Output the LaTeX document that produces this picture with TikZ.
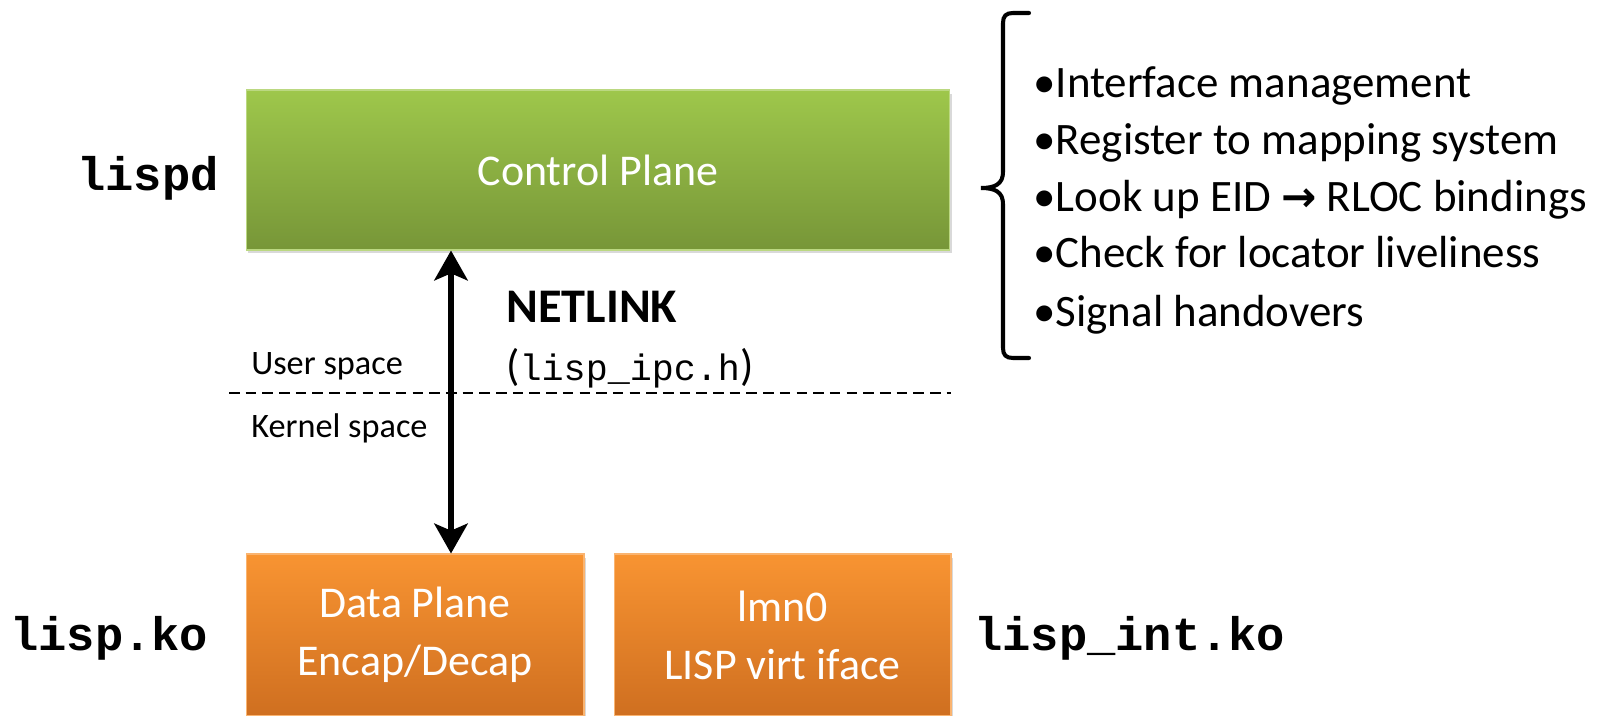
\documentclass[tikz,border=0pt]{standalone}
\usepackage{fontspec}
\setmainfont{Carlito}
\setmonofont{Liberation Mono}
\newfontfamily\arrowfont{DejaVu Sans}
\usetikzlibrary{arrows.meta,shadows}

\definecolor{cptop}{HTML}{9EC74B}
\definecolor{cpbot}{HTML}{779638}
\definecolor{dptop}{HTML}{F89432}
\definecolor{dpbot}{HTML}{CF6F20}

\begin{document}
\begin{tikzpicture}[x=0.02cm,y=-0.02cm,
  plane/.style={rectangle,inner sep=0pt,text=white,align=center,
    font=\fontsize{25}{33}\selectfont,
    drop shadow={shadow xshift=1pt,shadow yshift=-2pt,opacity=0.3}},
  greenbox/.style={plane,top color=cptop,bottom color=cpbot,draw=cptop!70!white,line width=0.6pt},
  orangebox/.style={plane,top color=dptop,bottom color=dpbot,draw=dptop!70!white,line width=0.6pt},
  modlabel/.style={inner sep=0pt,font=\fontsize{26.8}{30}\selectfont\ttfamily\bfseries},
  spacelabel/.style={anchor=base west,inner sep=0pt,font=\fontsize{19.5}{24}\selectfont},
  listline/.style={anchor=base west,inner sep=0pt,font=\fontsize{25.6}{30}\selectfont},
  netarrow/.style={{Stealth[length=17pt,width=19pt,inset=4pt]}-{Stealth[length=17pt,width=19pt,inset=4pt]},line width=3pt}]
\useasboundingbox (0,0) rectangle (1619,716);

\node[greenbox,minimum width=14.08cm,minimum height=3.2cm] (cp) at (598,170) {Control Plane};
\node[orangebox,minimum width=6.76cm,minimum height=3.24cm] (dp) at (415,635) {Data Plane\\Encap/Decap};
\node[orangebox,minimum width=6.74cm,minimum height=3.24cm] (lmn) at (782.5,635) {lmn0\\LISP virt iface};

\node[modlabel,anchor=base east] (lispd) at (219,191) {lispd};
\node[modlabel,anchor=base west] (lispko) at (10,650) {lisp.ko};
\node[modlabel,anchor=base west] (lispint) at (974,650) {lisp\_int.ko};

\node[spacelabel] (user) at (251,374) {User space};
\node[spacelabel] (kernel) at (251,437) {Kernel space};
\node[anchor=base west,inner sep=0pt,font=\fontsize{27.5}{30}\selectfont\bfseries] (netlink) at (506,322) {NETLINK};
\node[anchor=base west,inner sep=0pt,font=\fontsize{25}{30}\selectfont] (ipc) at (506,380) {(\texttt{\fontsize{20.9}{24}\selectfont lisp\_ipc.h})};

\coordinate (dl) at (229,393);
\coordinate (dr) at (951,393);
\draw[line width=1pt,dash pattern=on 6pt off 3.5pt] (dl) -- (dr);

\coordinate (ax) at (451,0);
\draw[netarrow] (cp.south -| ax) -- (dp.north -| ax);

\draw[line width=2.3pt,line cap=round] (1029,13) -- (1013,13) .. controls (1006,13) and (1003,16) .. (1003,23)
  -- (1003,172) .. controls (1003,184) and (995,188) .. (981,188)
  .. controls (995,188) and (1003,192) .. (1003,204)
  -- (1003,348) .. controls (1003,355) and (1006,358) .. (1013,358) -- (1029,358);

\node[listline] (b1) at (1033,98) {•Interface management};
\node[listline] (b2) at (1033,155) {•Register to mapping system};
\node[listline] (b3) at (1033,212) {•Look up EID {\arrowfont\bfseries\fontsize{24}{30}\selectfont →} RLOC bindings};
\node[listline] (b4) at (1033,268) {•Check for locator liveliness};
\node[listline] (b5) at (1033,326) {•Signal handovers};
\end{tikzpicture}
\end{document}
